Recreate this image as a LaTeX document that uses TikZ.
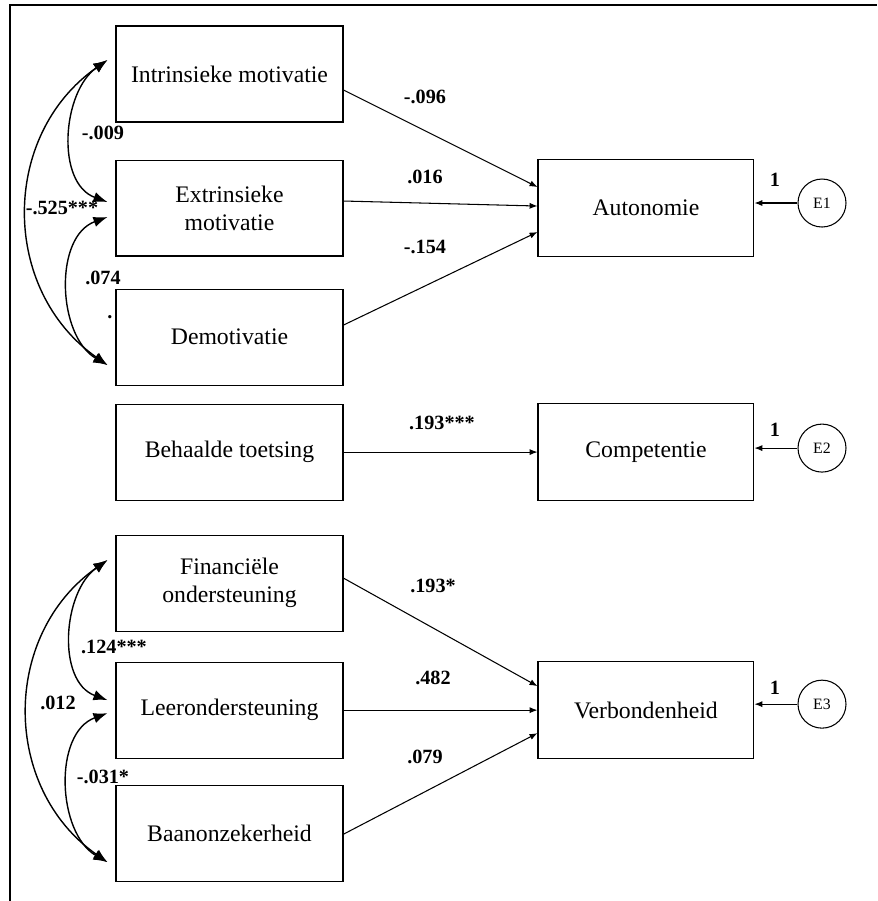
\documentclass[tikz,border=0pt]{standalone}
\usepackage{fontspec}
\setmainfont{Liberation Serif}
\usetikzlibrary{arrows.meta,positioning}

\tikzset{
  basic/.style  = {draw, rectangle, line width=0.6pt, align=center, inner sep=0pt,
                   font=\fontsize{13.5}{16}\selectfont},
  predictor/.style = {basic, minimum width=4.54cm, minimum height=1.92cm},
  outcome/.style   = {basic, minimum width=4.32cm, minimum height=1.94cm},
  resid/.style  = {draw, circle, line width=0.6pt, minimum size=0.96cm, inner sep=0pt,
                   font=\fontsize{9}{10}\selectfont},
  coef/.style   = {inner sep=0pt, font=\bfseries\fontsize{11.5}{13}\selectfont},
  effect/.style = {->, line width=0.6pt},
  cov/.style    = {<->, >={Latex[length=8pt,width=6pt]}, line width=0.8pt}
}

\begin{document}
\begin{tikzpicture}[x=0.02cm, y=0.02cm, >={Latex[length=4.5pt,width=3.5pt]}]
\useasboundingbox (0,0) rectangle (877,-901);

% frame, only top and left edges visible
\draw[line width=1.1pt] (10,-901) -- (10,-5) -- (877,-5);

% predictors, left column
\node[predictor] (c1) at (229.5,-74) {Intrinsieke motivatie};
\node[predictor, below=0.74cm of c1] (c2) {Extrinsieke\\motivatie};
\node[predictor, below=0.64cm of c2] (c3) {Demotivatie};
\node[predictor, below=0.36cm of c3] (c4) {Behaalde toetsing};
\node[predictor, below=0.68cm of c4] (c5) {Financi\"ele\\ondersteuning};
\node[predictor, below=0.60cm of c5] (c6) {Leerondersteuning};
\node[predictor, below=0.52cm of c6] (c7) {Baanonzekerheid};

% outcomes and their error terms
\node[outcome, right=3.88cm of c2] (aut) {Autonomie};
\node[outcome, right=3.88cm of c4] (com) {Competentie};
\node[outcome, right=3.88cm of c6] (ver) {Verbondenheid};

\node[resid, right=0.86cm of aut, yshift=0.1cm] (e1) {E1};
\node[resid, right=0.86cm of com, yshift=0.08cm] (e2) {E2};
\node[resid, right=0.86cm of ver, yshift=0.12cm] (e3) {E3};

\foreach \e/\o in {e1/aut, e2/com, e3/ver}
  \draw[effect] (\e) -- (\e -| \o.east);

% regression paths
\draw[effect] ([yshift=-0.32cm]c1.east) -- ([yshift=0.42cm]aut.west);
\draw[effect] ([yshift=0.14cm]c2.east) -- ([yshift=0.04cm]aut.west);
\draw[effect] ([yshift=0.24cm]c3.east) -- ([yshift=-0.48cm]aut.west);
\draw[effect] (c4.east) -- (com.west);
\draw[effect] ([yshift=0.10cm]c5.east) -- ([yshift=0.48cm]ver.west);
\draw[effect] (c6.east) -- (ver.west);
\draw[effect] ([yshift=-0.02cm]c7.east) -- ([yshift=-0.46cm]ver.west);

% end points of the covariances
\coordinate (t1) at ([shift={(-8,14)}]c1.west);
\coordinate (t2) at ([shift={(-8,6)}]c2.west);
\coordinate (t3) at ([shift={(-8,-9)}]c2.west);
\coordinate (t4) at ([shift={(-8,-28)}]c3.west);
\coordinate (b1) at ([shift={(-8,23)}]c5.west);
\coordinate (b2) at ([shift={(-8,10)}]c6.west);
\coordinate (b3) at ([shift={(-8,-3)}]c6.west);
\coordinate (b4) at ([shift={(-8,-29)}]c7.west);

\draw[cov] (t1) to[out=215, in=160] (t2);
\draw[cov] (t3) to[out=200, in=150] (t4);
\draw[cov] (t1) to[out=215, in=145, looseness=1.1] (t4);
\draw[cov] (b1) to[out=215, in=160] (b2);
\draw[cov] (b3) to[out=200, in=150] (b4);
\draw[cov] (b1) to[out=215, in=145, looseness=1.1] (b4);

% coefficients
\node[coef] (k1) at (103,-133) {-.009};
\node[coef] (k2) at (62,-208) {-.525***};
\node[coef] (k3) at (103,-278) {.074};
\node[coef] (k4) at (110,-317) {.};
\node[coef] (k5) at (114,-647) {.124***};
\node[coef] (k6) at (58,-703) {.012};
\node[coef] (k7) at (103,-777) {-.031*};

\node[coef] (p1) at (425,-97) {-.096};
\node[coef] (p2) at (425,-177) {.016};
\node[coef] (p3) at (425,-247) {-.154};
\node[coef] (p4) at (442,-423) {.193***};
\node[coef] (p5) at (433,-586) {.193*};
\node[coef] (p6) at (433,-678) {.482};
\node[coef] (p7) at (425,-757) {.079};

\node[coef] (w1) at (775,-180) {1};
\node[coef] (w2) at (775,-430) {1};
\node[coef] (w3) at (775,-688) {1};
\end{tikzpicture}
\end{document}
